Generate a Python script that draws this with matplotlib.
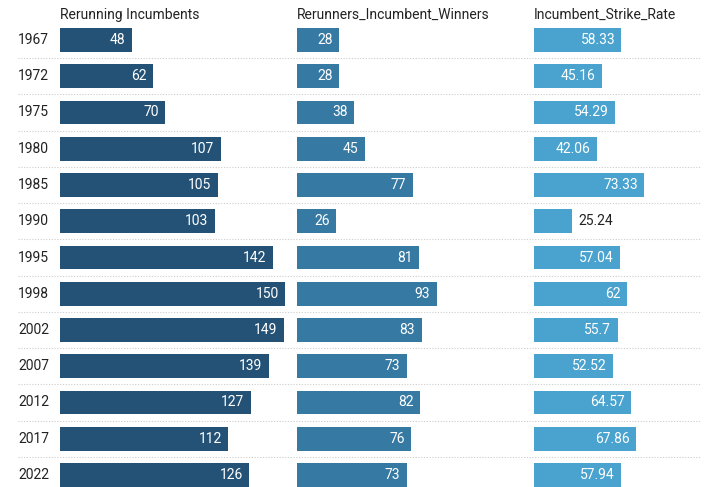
import matplotlib.pyplot as plt

plt.rcParams["font.family"] = ["Roboto", "DejaVu Sans"]

years = ["1967", "1972", "1975", "1980", "1985", "1990", "1995",
         "1998", "2002", "2007", "2012", "2017", "2022"]
rerunning = [48, 62, 70, 107, 105, 103, 142, 150, 149, 139, 127, 112, 126]
winners = [28, 28, 38, 45, 77, 26, 81, 93, 83, 73, 82, 76, 73]
strike_rate = [58.33, 45.16, 54.29, 42.06, 73.33, 25.24, 57.04,
               62, 55.7, 52.52, 64.57, 67.86, 57.94]
rate_labels = ["58.33", "45.16", "54.29", "42.06", "73.33", "25.24", "57.04",
               "62", "55.7", "52.52", "64.57", "67.86", "57.94"]

columns = [
    ("Rerunning Incumbents", rerunning, [str(v) for v in rerunning], "#245277"),
    ("Rerunners_Incumbent_Winners", winners, [str(v) for v in winners], "#3679a3"),
    ("Incumbent_Strike_Rate", strike_rate, rate_labels, "#4aa3cf"),
]

W, H = 704, 487
fig = plt.figure(figsize=(W / 100, H / 100), dpi=100)

n = len(years)
row0, step = 40, 36.25
ylim = ((H - row0) / step, -row0 / step)

# background axes for year labels and dotted separators
bg = fig.add_axes([0, 0, 1, 1])
bg.set_xlim(0, W)
bg.set_ylim(*ylim)
bg.axis("off")
for i, y in enumerate(years):
    bg.text(18, i, y, ha="left", va="center", fontsize=10, color="#222222")
for i in range(n - 1):
    bg.plot([18, 700], [i + 0.5, i + 0.5], color="#cccccc", lw=0.8,
            ls=(0, (1, 1.5)))

px_per_unit = 1.5
starts = [60, 297, 534]
for (title, vals, labels, color), x0 in zip(columns, starts):
    width_px = min(225, W - x0)
    ax = fig.add_axes([x0 / W, 0, width_px / W, 1])
    ax.set_xlim(0, width_px / px_per_unit)
    ax.set_ylim(*ylim)
    ax.axis("off")
    ax.barh(range(n), vals, height=0.66, color=color)
    ax.text(0, -0.7, title, ha="left", va="center", fontsize=10, color="#222222")
    for i, (v, lab) in enumerate(zip(vals, labels)):
        if v * px_per_unit < len(lab) * 7.5 + 12:
            ax.annotate(lab, (v, i), xytext=(5, 0), textcoords="offset points",
                        ha="left", va="center", fontsize=10, color="#222222")
        else:
            ax.annotate(lab, (v, i), xytext=(-4.5, 0), textcoords="offset points",
                        ha="right", va="center", fontsize=10, color="white")

fig.savefig("out.png", dpi=100)
